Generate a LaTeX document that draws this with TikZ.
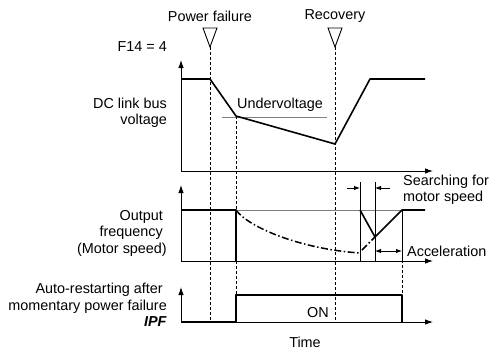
\documentclass[tikz,border=0pt]{standalone}
\usepackage{fontspec}
\setmainfont{Liberation Sans}
\usetikzlibrary{arrows.meta, positioning, calc}

\begin{document}
\begin{tikzpicture}[
  x=1pt, y=-1pt,
  lbl/.style={font=\fontsize{14.4}{16.5}\selectfont, inner sep=0pt, align=right, anchor=east},
  txt/.style={font=\fontsize{14.4}{16.5}\selectfont, inner sep=0pt},
  axis/.style={line width=0.9pt, -{Latex[length=8pt, width=5.5pt]}},
  sig/.style={line width=1.6pt, line join=round},
  lvl/.style={line width=0.9pt, gray},
  guide/.style={line width=0.6pt, dash pattern=on 3pt off 2pt},
  tri/.style={line width=0.9pt, fill=white},
  chain/.style={line width=1.5pt, dash pattern=on 7pt off 2.5pt on 1.5pt off 2.5pt},
  dim/.style={line width=0.9pt, -{Latex[length=6pt, width=4.5pt]}},
  dimboth/.style={line width=0.9pt, {Latex[length=6pt, width=4.5pt]}-{Latex[length=6pt, width=4.5pt]}}
]
\useasboundingbox (0,0) rectangle (489,349);

% axes
\coordinate (o1) at (181,171); \coordinate (o2) at (181,261); \coordinate (o3) at (181,322);
\draw[axis] (o1) -- (181,60);  \draw[axis] (o1) -- (433,171);
\draw[axis] (o2) -- (181,185); \draw[axis] (o2) -- (433,261);
\draw[axis] (o3) -- (181,287); \draw[axis] (o3) -- (433,322);

% events
\node[txt] (pftxt) at (210,16) {Power failure};
\node[txt] (rctxt) at (335,16) {Recovery};
\coordinate (pf) at (210,47); \coordinate (rc) at (335,47);
\draw[tri] (203,28) -- (217,28) -- (pf) -- cycle;
\draw[tri] (328,28) -- (342,28) -- (rc) -- cycle;

% panel 1: DC link bus voltage
\coordinate (uv) at (236,116); \coordinate (lo) at (335,144);
\draw[lvl] (222,117) -- (327,117);
\node[txt] (uvtxt) at (280,105) {Undervoltage};
\draw[sig] (181,79) -- (210,79) -- (uv) -- (lo) -- (370,79) -- (425,79);

% panel 2: output frequency
\coordinate (cut) at (236,210); \coordinate (srch) at (360,210);
\coordinate (vmin) at (375,237); \coordinate (acc) at (402,210);
\draw[lvl] (181,210) -- (425,210);
\draw[line width=0.9pt] (360,182) -- (360,261) (375,182) -- (375,261) (acc) -- (402,261);
\draw[chain] (cut) .. controls (248,227) and (300,249) .. (360,253);
\draw[chain] (362,250) -- (vmin);
\draw[sig] (181,210) -- (cut) -- (236,261);
\draw[sig] (srch) -- (vmin) -- (acc) -- (425,210);
\draw[dim] (347,188) -- (360,188);
\draw[dim] (390,188) -- (375,188);
\draw[dimboth] (375,251) -- (402,251);
\node[txt, anchor=west, align=left] (srchtxt) at (403,190) {Searching for\\motor speed};
\node[txt, anchor=west] (acctxt) at (407,251) {Acceleration};

% panel 3: IPF
\draw[sig] (o3) -- (236,322) -- (236,295) -- (402,295) -- (402,322);
\node[txt] (ontxt) at (318,313) {ON};
\node[txt] (timetxt) at (305,342) {Time};

% guide lines
\draw[guide] (pf) -- (210,322);
\draw[guide] (uv) -- (236,295);
\draw[guide] (rc) -- (335,322);
\draw[guide] (acc) -- (402,295);

% left labels
\node[lbl] (f14) at (167,47) {F14 = 4};
\node[lbl] (dclbl) at (167,113) {DC link bus\\voltage};
\node[lbl] (frqlbl) at (167,233) {Output\kern4pt\\frequency\kern4pt\\(Motor speed)};
\node[lbl] (ipflbl) at (167,305) {Auto-restarting after\kern4pt\\momentary power failure\\\textbf{\textit{IPF}}};
\end{tikzpicture}
\end{document}
